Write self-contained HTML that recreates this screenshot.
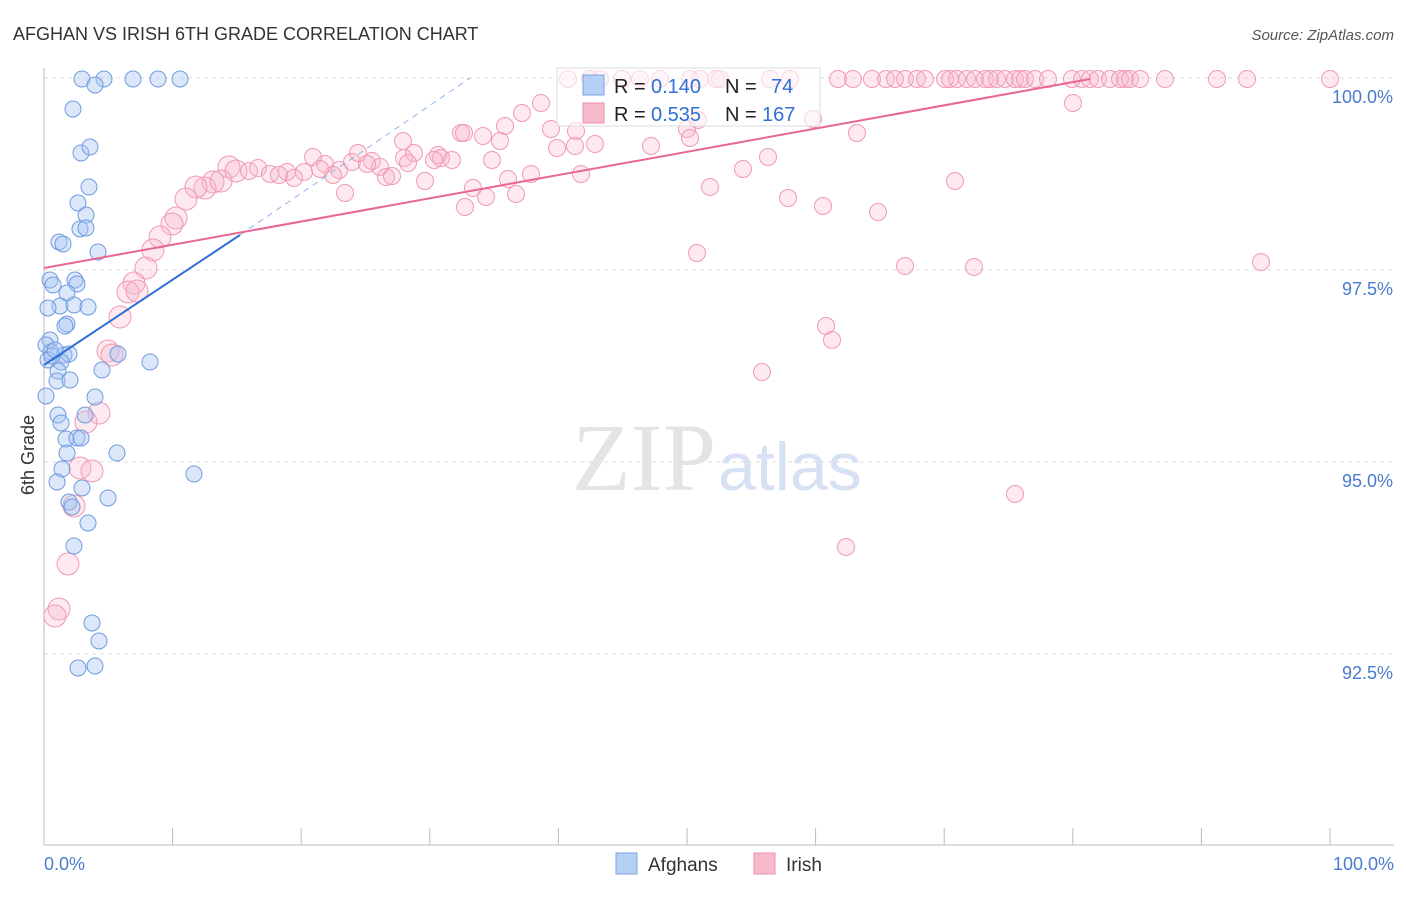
<!DOCTYPE html>
<html><head><meta charset="utf-8"><style>
body{margin:0;background:#fff;font-family:"Liberation Sans",sans-serif;}
</style></head><body>
<svg width="1406" height="892" xmlns="http://www.w3.org/2000/svg" font-family="Liberation Sans, sans-serif">
<text x="13" y="40" font-size="18" fill="#333">AFGHAN VS IRISH 6TH GRADE CORRELATION CHART</text>
<text x="1394" y="40" font-size="15" fill="#555" font-style="italic" text-anchor="end">Source: ZipAtlas.com</text>
<g id="grid"></g>
<text x="716" y="490" font-size="96" fill="#e4e4e4" text-anchor="end" font-family="Liberation Serif, serif">ZIP</text>
<text x="718" y="490" font-size="68" fill="#d6e2f3">atlas</text>
<g id="pts"></g>
<g id="lines"></g>
<text x="34" y="455" font-size="18" fill="#333" transform="rotate(-90 34 455)" text-anchor="middle">6th Grade</text>
<text x="44" y="870" font-size="18" fill="#4a7bd0">0.0%</text>
<text x="1394" y="870" font-size="18" fill="#4a7bd0" text-anchor="end">100.0%</text>
<g>
<rect x="557" y="68" width="263" height="58" fill="#fff" fill-opacity="0.6" stroke="#ddd"/>
<rect x="583" y="75" width="21" height="20" fill="#b6cff5" stroke="#7aa3e0"/>
<rect x="583" y="103" width="21" height="20" fill="#f7bacb" stroke="#ee8fab"/>
<text x="614" y="93" font-size="20" fill="#222">R =</text>
<text x="651" y="93" font-size="20" fill="#2f6fd6">0.140</text>
<text x="725" y="93" font-size="20" fill="#222">N =</text>
<text x="771" y="93" font-size="20" fill="#2f6fd6">74</text>
<text x="614" y="121" font-size="20" fill="#222">R =</text>
<text x="651" y="121" font-size="20" fill="#2f6fd6">0.535</text>
<text x="725" y="121" font-size="20" fill="#222">N =</text>
<text x="762" y="121" font-size="20" fill="#2f6fd6">167</text>
</g>
<g>
<rect x="616" y="853" width="21" height="21" fill="#b6cff5" stroke="#7aa3e0"/>
<text x="648" y="871" font-size="19" fill="#333">Afghans</text>
<rect x="754" y="853" width="21" height="21" fill="#f7bacb" stroke="#ee8fab"/>
<text x="786" y="871" font-size="19" fill="#333">Irish</text>
</g>
</svg>
<script>
const yTicks=[100,97.5,95,92.5];
const yTickLabels=["100.0%","97.5%","95.0%","92.5%"];
const xTicks=[0,10,20,30,40,50,60,70,80,90,100];
const afghanPx=[[82,79],[104,79],[133,79],[158,79],[180,79],[95,85],[73,109],[81,153],[90,147],[89,187],[78,203],[86,215],[80,229],[86,228],[59,242],[63,244],[98,252],[50,280],[53,285],[75,280],[77,284],[67,293],[60,306],[74,305],[88,307],[48,308],[67,324],[65,326],[50,340],[46,345],[51,352],[64,355],[69,354],[118,354],[150,362],[61,362],[58,371],[102,370],[57,381],[70,380],[46,396],[95,397],[58,415],[85,415],[61,423],[66,439],[77,438],[81,438],[67,453],[117,453],[62,469],[194,474],[57,482],[82,488],[108,498],[69,502],[72,507],[88,523],[74,546],[92,623],[99,641],[78,668],[95,666],[48,360],[52,356],[55,350]];
const irishPx=[[568,79],[590,79],[600,79],[622,79],[640,79],[660,79],[690,79],[700,79],[716,79],[720,79],[770,79],[790,79],[838,79],[853,79],[872,79],[886,79],[895,79],[905,79],[917,79],[925,79],[945,79],[950,79],[957,79],[967,79],[975,79],[985,79],[990,79],[997,79],[1005,79],[1015,79],[1020,79],[1025,79],[1035,79],[1048,79],[1072,79],[1082,79],[1090,79],[1098,79],[1110,79],[1120,79],[1125,79],[1130,79],[1140,79],[1165,79],[1217,79],[1247,79],[1330,79],[1073,103],[813,119],[541,103],[522,113],[505,126],[461,133],[483,136],[500,141],[551,129],[576,131],[575,146],[557,148],[595,144],[651,146],[687,129],[690,138],[698,120],[768,157],[857,133],[743,169],[710,187],[788,198],[823,206],[878,212],[955,181],[697,253],[905,266],[974,267],[1261,262],[826,326],[832,340],[762,372],[1015,494],[846,547],[229,167],[236,171],[249,171],[258,168],[270,174],[287,172],[304,172],[313,157],[325,164],[339,170],[352,162],[358,153],[372,161],[380,167],[386,177],[404,158],[414,153],[425,181],[438,155],[452,160],[441,158],[434,160],[408,163],[403,141],[392,176],[367,164],[345,193],[333,175],[320,169],[294,178],[279,175],[473,188],[486,197],[516,194],[531,174],[508,179],[581,174],[465,207],[492,160],[464,133],[213,182],[205,188],[196,187],[186,199],[176,218],[172,224],[160,237],[153,250],[146,268],[134,283],[128,292],[137,291],[120,317],[108,351],[112,355],[99,413],[86,422],[80,468],[92,471],[74,506],[68,564],[59,609],[55,616],[221,181]];
const X0=44,X1=1330,Y100=78,PX_PER_PCT=76.8;
const xs=v=>X0+(X1-X0)*v/100;
const ys=v=>Y100+(100-v)*PX_PER_PCT;
const toX=p=>(p-X0)/(X1-X0)*100, toY=p=>100-(p-Y100)/PX_PER_PCT;
const afghanX=afghanPx.map(p=>toX(p[0])), afghanY=afghanPx.map(p=>toY(p[1]));
const irishX=irishPx.map(p=>toX(p[0])), irishY=irishPx.map(p=>toY(p[1]));
const NS="http://www.w3.org/2000/svg";
function mk(t,a,parent){const e=document.createElementNS(NS,t);for(const k in a)e.setAttribute(k,a[k]);parent.appendChild(e);return e;}
const grid=document.getElementById('grid');
yTicks.forEach((v,i)=>{
 const l=mk('line',{x1:44,x2:1394,y1:ys(v),y2:ys(v),stroke:'#ddd','stroke-dasharray':'4,4'},grid);
 
 
 const t=mk('text',{x:1393,y:ys(v)+25,'font-size':18,fill:'#4a7bd0','text-anchor':'end'},grid);
 t.textContent=yTickLabels[i];
 
 
});
const ax=mk('line',{x1:44,x2:44,y1:68,y2:845,stroke:'#bbb'},grid);


const bx=mk('line',{x1:44,x2:1394,y1:845,y2:845,stroke:'#bbb'},grid);


xTicks.forEach(v=>{const l=mk('line',{x1:xs(v),x2:xs(v),y1:828,y2:845,stroke:'#bbb'},grid);
 
 });
const pts=document.getElementById('pts');
irishX.forEach((x,i)=>{const r=x<15?11:8.5;
 const c=mk('circle',{cx:xs(x),cy:ys(irishY[i]),r:r,fill:'#f7b6c9','fill-opacity':0.3,stroke:'#f09ab4','stroke-width':1},pts);
 
 });
afghanX.forEach((x,i)=>{
 const c=mk('circle',{cx:xs(x),cy:ys(afghanY[i]),r:8,fill:'#a8c6f2','fill-opacity':0.4,stroke:'#6f9be0','stroke-width':1},pts);
 
 });
const lines=document.getElementById('lines');
const bl=mk('line',{x1:44,y1:365,x2:240,y2:235,stroke:'#2f6fd6','stroke-width':2},lines);


const bd=mk('line',{x1:240,y1:235,x2:470,y2:78,stroke:'#8fb3ea','stroke-width':1,'stroke-dasharray':'6,5'},lines);


const pl=mk('line',{x1:44,y1:268,x2:1090,y2:79,stroke:'#e8668f','stroke-width':2},lines);


</script>
</body></html>
